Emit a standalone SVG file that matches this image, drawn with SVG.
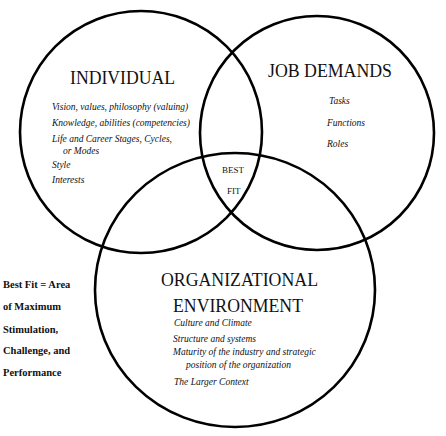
<svg xmlns="http://www.w3.org/2000/svg" width="446" height="436" viewBox="0 0 446 436">
<style>
.c{fill:none;stroke:#000;stroke-width:2.6}
text{font-family:'Liberation Serif','DejaVu Serif','Times New Roman',serif;fill:#111}
.h{font-size:18px}
.i{font-size:9.5px;font-style:italic}
.b{font-size:9px}
.l{font-size:10.5px;font-weight:bold}
</style>
<rect width="446" height="436" fill="#fff"/>
<g id="individual">
<circle class="c" cx="141" cy="132" r="121"/>
<text class="h" x="70" y="84" textLength="105" lengthAdjust="spacingAndGlyphs">INDIVIDUAL</text>
<text class="i" x="52" y="110">Vision, values, philosophy (valuing)</text>
<text class="i" x="52" y="126">Knowledge, abilities (competencies)</text>
<text class="i" x="52" y="142">Life and Career Stages, Cycles,</text>
<text class="i" x="63" y="154">or Modes</text>
<text class="i" x="52" y="168">Style</text>
<text class="i" x="52" y="183">Interests</text>
</g>
<g id="job-demands">
<circle class="c" cx="317" cy="133" r="117"/>
<text class="h" x="268" y="77" textLength="124" lengthAdjust="spacingAndGlyphs">JOB DEMANDS</text>
<text class="i" x="329" y="104">Tasks</text>
<text class="i" x="327" y="126">Functions</text>
<text class="i" x="327" y="147">Roles</text>
</g>
<g id="organizational-environment">
<ellipse class="c" cx="235" cy="290" rx="140" ry="137"/>
<text class="h" x="161" y="286" font-size="19" textLength="157" lengthAdjust="spacingAndGlyphs">ORGANIZATIONAL</text>
<text class="h" x="173" y="312" font-size="19" textLength="130" lengthAdjust="spacingAndGlyphs">ENVIRONMENT</text>
<text class="i" x="174" y="326" font-size="9">Culture and Climate</text>
<text class="i" x="173" y="342" font-size="9">Structure and systems</text>
<text class="i" x="173" y="355" font-size="9">Maturity of the industry and strategic</text>
<text class="i" x="186" y="368" font-size="9">position of the organization</text>
<text class="i" x="174" y="385" font-size="9">The Larger Context</text>
</g>
<g id="best-fit">
<text class="b" x="222" y="173">BEST</text>
<text class="b" x="227" y="194">FIT</text>
</g>
<g id="legend">
<text class="l" x="3" y="288">Best Fit = Area</text>
<text class="l" x="3" y="310">of Maximum</text>
<text class="l" x="3" y="333">Stimulation,</text>
<text class="l" x="3" y="354">Challenge, and</text>
<text class="l" x="3" y="376">Performance</text>
</g>
<g id="connectors"/>
</svg>
